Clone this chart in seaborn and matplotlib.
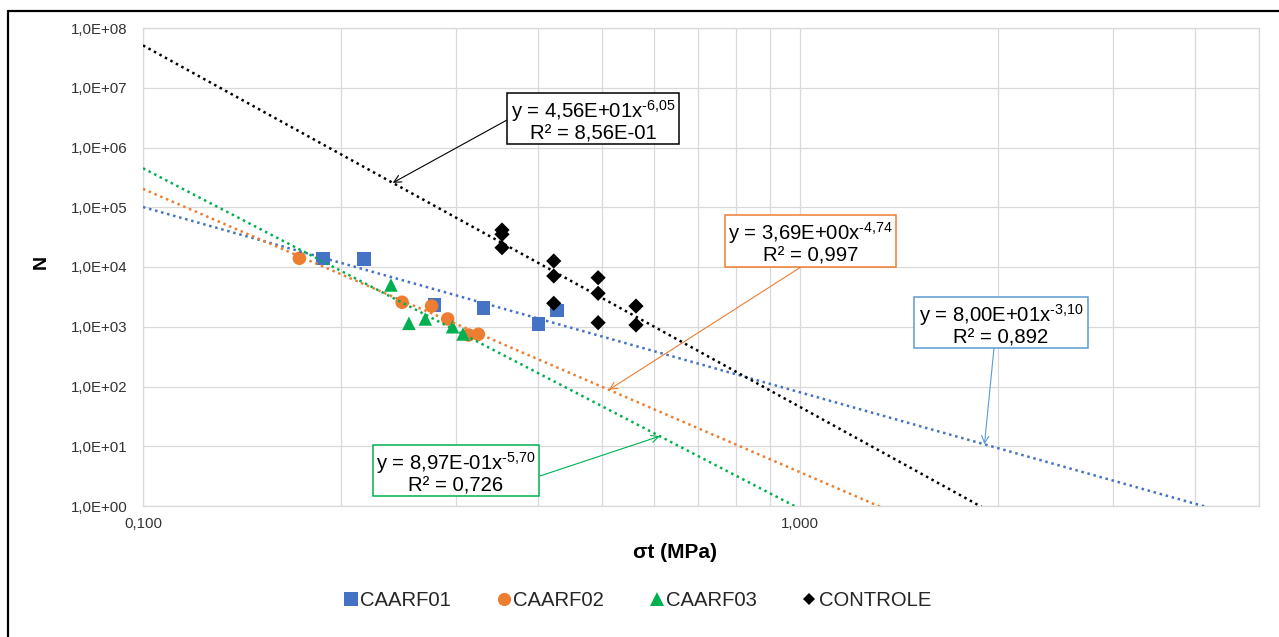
import numpy as np
import pandas as pd
import matplotlib
matplotlib.use("Agg")
import matplotlib.pyplot as plt
import seaborn as sns
from matplotlib.lines import Line2D
from matplotlib.patches import Rectangle
from matplotlib.ticker import FixedLocator, LogLocator, NullLocator, NullFormatter

# ---------------- data ----------------
series_names = ["CAARF01", "CAARF02", "CAARF03", "CONTROLE"]

caarf01_x = [0.188, 0.217, 0.278, 0.330, 0.400, 0.427]
caarf01_y = [14000, 13600, 2310, 2040, 1110, 1860]

caarf02_x = [0.173, 0.248, 0.275, 0.291, 0.313, 0.324]
caarf02_y = [14000, 2570, 2220, 1350, 728, 748]

caarf03_x = [0.2385, 0.254, 0.269, 0.296, 0.307]
caarf03_y = [5000, 1140, 1350, 1000, 756]

controle_x = [0.352, 0.352, 0.352, 0.422, 0.422, 0.422, 0.493, 0.493, 0.493, 0.563, 0.563]
controle_y = [41600, 35250, 21050, 12600, 7070, 2470, 6620, 3630, 1170, 2220, 1070]

# power-law trendlines shown in the chart: y = a * x^b
trend_coef = [80.0, 3.69, 0.897, 45.6]
trend_exp = [-3.10, -4.74, -5.70, -6.05]
trend_eq = ["y = 8,00E+01x$^{\u20103{,}10}$", "y = 3,69E+00x$^{\u20104{,}74}$",
            "y = 8,97E-01x$^{\u20105{,}70}$", "y = 4,56E+01x$^{\u20106{,}05}$"]
trend_r2 = ["R² = 0,892", "R² = 0,997", "R² = 0,726", "R² = 8,56E-01"]

x_range = [0.1, 5.0]
y_range = [1.0, 1e8]
x_ticks = [0.1, 1.0]
x_tick_labels = ["0,100", "1,000"]
y_ticks = [1e0, 1e1, 1e2, 1e3, 1e4, 1e5, 1e6, 1e7, 1e8]
y_tick_labels = ["1,0E+00", "1,0E+01", "1,0E+02", "1,0E+03", "1,0E+04",
                 "1,0E+05", "1,0E+06", "1,0E+07", "1,0E+08"]

# ---------------- style ----------------
colors = ["#4472C4", "#ED7D31", "#00B050", "#000000"]
box_colors = ["#5B9BD5", "#ED7D31", "#00B050", "#000000"]
markers = ["s", "o", "^", "D"]
marker_s = [95, 95, 95, 60]
legend_ms = [9.5, 9.5, 9.5, 6.5]

sns.set_theme(style="white")
plt.rcParams["font.family"] = ["Liberation Sans", "DejaVu Sans"]
plt.rcParams["mathtext.default"] = "regular"

W, H = 1279, 637
fig = plt.figure(figsize=(W / 100, H / 100), dpi=100)
fig.patch.set_facecolor("white")


def fx(px):
    return px / W


def fy(py):
    return 1 - py / H


ax = fig.add_axes([fx(143), fy(506), (1259 - 143) / W, (506 - 28) / H])

xs_all = [caarf01_x, caarf02_x, caarf03_x, controle_x]
ys_all = [caarf01_y, caarf02_y, caarf03_y, controle_y]

df = pd.concat([
    pd.DataFrame({"sigma": xs, "N": ys, "series": name})
    for xs, ys, name in zip(xs_all, ys_all, series_names)
], ignore_index=True)

for name, c, m, s in zip(series_names, colors, markers, marker_s):
    sub = df[df["series"] == name]
    sns.scatterplot(data=sub, x="sigma", y="N", marker=m, s=s, color=c,
                    edgecolor="none", linewidth=0, ax=ax, zorder=3, legend=False)

for a, b, c in zip(trend_coef, trend_exp, colors):
    tx = np.array(x_range)
    ty = a * tx ** b
    sns.lineplot(x=tx, y=ty, ax=ax, color=c, lw=1.8, linestyle=(0, (1, 1.5)),
                 zorder=4, legend=False)

ax.set_xscale("log")
ax.set_yscale("log")
ax.set_xlim(*x_range)
ax.set_ylim(*y_range)

ax.xaxis.set_major_locator(FixedLocator(x_ticks))
ax.set_xticklabels(x_tick_labels)
ax.xaxis.set_minor_locator(LogLocator(base=10, subs=np.arange(2, 10)))
ax.xaxis.set_minor_formatter(NullFormatter())
ax.yaxis.set_major_locator(FixedLocator(y_ticks))
ax.set_yticklabels(y_tick_labels)
ax.yaxis.set_minor_locator(NullLocator())

grid_c = "#D9D9D9"
ax.grid(which="both", axis="x", color=grid_c, lw=0.9)
ax.grid(which="major", axis="y", color=grid_c, lw=0.9)
ax.set_axisbelow(True)
for sp in ax.spines.values():
    sp.set_color(grid_c)
    sp.set_linewidth(0.9)

ax.tick_params(axis="both", which="both", length=0)
ax.tick_params(axis="y", pad=11, labelsize=10.8, labelcolor="#333333")
ax.tick_params(axis="x", pad=8, labelsize=10.8, labelcolor="#333333")

ax.set_xlabel("σt (MPa)", fontsize=15, fontweight="bold", color="black")
ax.xaxis.label.set_va("center")
ax.xaxis.set_label_coords((675 - 143) / 1116, (506 - 552) / 478)
ax.set_ylabel("N", fontsize=14, fontweight="bold", color="black")
ax.yaxis.label.set_va("center")
ax.yaxis.label.set_ha("center")
ax.yaxis.set_label_coords((41 - 143) / 1116, (506 - 262) / 478)

# ---------------- annotations (equation boxes) ----------------
boxes = [(914, 297, 1088, 348), (725, 215, 896, 267), (373, 445, 539, 496), (507, 93, 679, 144)]
arrow_start = [(994, 348), (801, 267), (540, 476), (507, 120)]
arrow_tip_x = [1.91, 0.512, 0.612, 0.24]

for i in range(4):
    x0, y0, x1, y1 = boxes[i]
    c = box_colors[i]
    fig.add_artist(Rectangle((fx(x0), fy(y1)), (x1 - x0) / W, (y1 - y0) / H,
                             transform=fig.transFigure, facecolor="white",
                             edgecolor=c, lw=1.1, zorder=5))
    cx = (x0 + x1) / 2
    fig.text(fx(cx), fy(y0 + 25), trend_eq[i], ha="center", va="baseline",
             fontsize=14.6, color="black", zorder=6)
    fig.text(fx(cx), fy(y0 + 46.5), trend_r2[i], ha="center", va="baseline",
             fontsize=14.6, color="black", zorder=6)
    tx = arrow_tip_x[i]
    ty = trend_coef[i] * tx ** trend_exp[i]
    sx, sy = arrow_start[i]
    ax.annotate("", xy=(tx, ty), xycoords="data",
                xytext=(fx(sx), fy(sy)), textcoords="figure fraction",
                arrowprops=dict(arrowstyle="->", color=c, lw=0.8,
                                shrinkA=0, shrinkB=0, mutation_scale=13),
                annotation_clip=False, zorder=6)

# ---------------- legend ----------------
handles = [Line2D([], [], marker=m, color=c, linestyle="none", markersize=ms,
                  markeredgewidth=0)
           for m, c, ms in zip(markers, colors, legend_ms)]
fig.legend(handles, series_names, loc="center", bbox_to_anchor=(fx(638), fy(601)),
           ncol=4, frameon=False, fontsize=14.6, handlelength=0.6,
           handletextpad=0.15, columnspacing=2.3, borderpad=0, borderaxespad=0)

# outer chart frame (left and top edges visible)
fig.add_artist(Line2D([fx(8), fx(8)], [0, fy(11)], color="black", lw=1.6,
                      transform=fig.transFigure))
fig.add_artist(Line2D([fx(8), 1], [fy(11), fy(11)], color="black", lw=1.6,
                      transform=fig.transFigure))

fig.savefig("out.png", dpi=100)
